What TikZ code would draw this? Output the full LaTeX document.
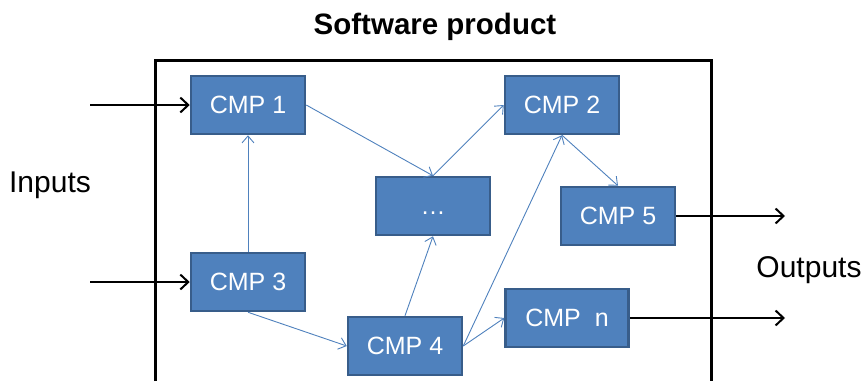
\documentclass[tikz,border=0pt]{standalone}
\usepackage{fontspec}
\setmainfont{Liberation Sans}
\usetikzlibrary{arrows.meta}

\definecolor{cmpfill}{HTML}{4F81BD}
\definecolor{cmpline}{HTML}{385D8A}

\tikzset{
    cmp/.style={draw=cmpline, fill=cmpfill, line width=2.5pt, text=white,
        minimum width=114pt, minimum height=58pt, inner sep=0pt,
        font=\fontsize{25}{30}\selectfont},
    link/.style={draw=cmpfill, line width=0.9pt, -{Straight Barb[length=7pt,width=12pt]}},
    ioarrow/.style={draw=black, line width=2pt, -{Straight Barb[length=8pt,width=15pt]}},
    iolabel/.style={font=\fontsize{30}{36}\selectfont}
}

\begin{document}
\begin{tikzpicture}[x=1pt, y=-1pt]
        \useasboundingbox (0, 0) rectangle (865, 381);
        \draw[line width=3pt] (155, 381) -- (155, 60) -- (711, 60) -- (711, 381);
        \node[font=\fontsize{29.5}{34}\selectfont\bfseries] (title) at (435, 27) {Software product};

        \node[cmp] (cmp1) at (248, 105) {CMP 1};
        \node[cmp] (cmp2) at (562, 105) {CMP 2};
        \node[cmp] (dots) at (433, 206) {\vphantom{CMP}\ldots};
        \node[cmp] (cmp5) at (618, 216) {CMP 5};
        \node[cmp] (cmp3) at (248, 282) {CMP 3};
        \node[cmp, minimum width=123pt] (cmpn) at (567, 318) {CMP~~n};
        \node[cmp] (cmp4) at (405, 346) {CMP 4};

        \node[iolabel] (inputs) at (50, 185) {Inputs};
        \node[iolabel] (outputs) at (809, 270) {Outputs};

        \coordinate (in1) at (90, 105);
        \coordinate (in3) at (90, 282);
        \coordinate (out5) at (785, 216);
        \coordinate (outn) at (785, 318);

        \draw[ioarrow] (in1) -- (cmp1.west);
        \draw[ioarrow] (in3) -- (cmp3.west);
        \draw[ioarrow] (cmp5.east) -- (out5);
        \draw[ioarrow] (cmpn.east) -- (outn);

        \draw[link] (cmp1.east) -- (dots.north);
        \draw[link] (dots.north) -- (cmp2.west);
        \draw[link] (cmp3.north) -- (cmp1.south);
        \draw[link] (cmp3.south) -- (cmp4.west);
        \draw[link] (cmp4.north) -- (dots.south);
        \draw[link] (cmp4.east) -- (cmp2.south);
        \draw[link] (cmp4.east) -- (cmpn.west);
        \draw[link] (cmp2.south) -- (cmp5.north);
    \end{tikzpicture}
\end{document}
